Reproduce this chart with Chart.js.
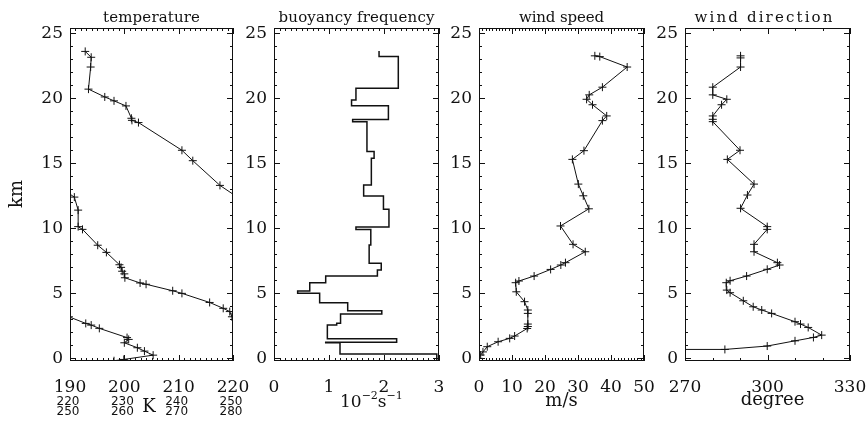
<!DOCTYPE html>
<html>
<head>
<meta charset="utf-8">
<script src="https://cdn.jsdelivr.net/npm/chart.js@4.4.0/dist/chart.umd.min.js"></script>
<style>
  body { margin: 0; background: #fff; }
  canvas { position: absolute; top: 0; left: 0; }
</style>
</head>
<body>
<canvas id="temp" width="868" height="421"></canvas>
<canvas id="bvf" width="868" height="421"></canvas>
<canvas id="speed" width="868" height="421"></canvas>
<canvas id="dir" width="868" height="421"></canvas>
<script>
// ---- values (heights in km) ----
const tempHeight = [-0.18, -0.08, 0.25, 0.56, 0.82, 1.2, 1.46, 1.6, 2.31, 2.56, 2.69, 3.2, 3.6, 3.85, 4.3, 5.0, 5.2, 5.7, 5.8, 6.2, 6.5, 6.7, 7.0, 7.2, 8.15, 8.7, 9.92, 10.13, 11.4, 12.4, 13.3, 15.2, 16.0, 18.13, 18.3, 18.46, 19.41, 19.8, 20.1, 20.7, 22.4, 23.15, 23.6];
const tempKelvin = [258.1, 259.9, 265.3, 263.7, 262.4, 260.0, 260.8, 260.5, 255.4, 253.9, 252.9, 249.8, 249.4, 248.2, 245.7, 240.6, 238.9, 234.0, 232.9, 230.1, 230.0, 229.6, 229.4, 229.1, 226.7, 225.1, 222.3, 221.5, 221.5, 220.8, 217.6, 212.6, 210.6, 202.6, 201.4, 201.3, 200.3, 198.1, 196.4, 193.4, 193.8, 193.9, 192.8];
// temperature axis wraps every 30 K
const tempWraps = [0, 30, 60];
const tempTicks = [190, 200, 210, 220];

// buoyancy frequency: layer bottom heights and value in each layer
const bvfHeight = [-0.3, 0.33, 1.2, 1.25, 1.51, 2.56, 2.7, 3.41, 3.66, 4.28, 5.0, 5.18, 5.82, 6.33, 6.79, 7.31, 8.72, 9.9, 10.1, 11.46, 12.48, 13.33, 15.38, 15.9, 18.2, 18.37, 19.43, 19.87, 20.77, 23.2, 23.64];
const bvfValue = [2.96, 1.20, 0.94, 2.23, 0.97, 1.14, 1.21, 1.96, 1.34, 0.83, 0.43, 0.65, 0.94, 1.88, 1.95, 1.73, 1.76, 1.49, 2.09, 1.99, 1.63, 1.77, 1.82, 1.69, 1.43, 2.08, 1.41, 1.49, 2.26, 1.91, 1.91];

const speedHeight = [0.0, 0.26, 0.5, 0.9, 1.28, 1.54, 1.72, 2.3, 2.45, 2.64, 3.46, 3.72, 4.36, 5.12, 5.82, 5.95, 6.33, 6.84, 7.18, 7.36, 8.2, 8.77, 10.18, 11.5, 12.5, 13.4, 15.3, 15.97, 18.28, 18.64, 19.5, 19.92, 20.26, 20.85, 22.4, 23.2, 23.26];
const speedValue = [0.0, 0.5, 1.2, 2.5, 5.8, 9.3, 10.8, 14.6, 14.8, 14.8, 14.8, 14.8, 13.8, 11.3, 11.1, 12.1, 16.7, 21.7, 24.8, 26.2, 32.2, 28.5, 24.7, 33.3, 31.6, 30.1, 28.3, 31.8, 37.4, 38.7, 34.4, 32.6, 33.4, 37.4, 44.9, 36.6, 35.1];

const dirHeight = [0.69, 0.69, 0.95, 1.35, 1.61, 1.79, 2.38, 2.64, 2.82, 3.46, 3.72, 3.97, 4.43, 5.05, 5.25, 5.82, 5.97, 6.33, 6.85, 7.18, 7.36, 8.2, 8.77, 9.92, 10.13, 11.54, 12.56, 13.4, 15.3, 16.0, 18.2, 18.38, 18.64, 19.5, 19.92, 20.26, 20.85, 22.4, 23.1, 23.26];
const dirValue = [268, 284.5, 299.9, 310.0, 316.7, 319.7, 314.8, 312.0, 310.0, 301.5, 297.9, 294.8, 291.2, 286.4, 285.2, 285.0, 286.4, 292.4, 299.9, 304.4, 303.6, 295.1, 295.1, 299.9, 299.9, 290.2, 292.7, 295.1, 285.4, 290.0, 280.1, 280.1, 280.1, 283.3, 285.2, 280.1, 280.1, 290.2, 290.2, 290.2];

const heightTicks = [0, 5, 10, 15, 20, 25];

const SERIF = 'DejaVu Serif';
const INK = '#111';

function pairs(xs, ys, shift) {
  return ys.map((y, i) => ({ x: xs[i] - (shift || 0), y }));
}

// frame + inward IDL style tick marks
const frameTicks = {
  id: 'frameTicks',
  afterDatasetsDraw(chart, args, o) {
    const { ctx, chartArea: a, scales: { x, y } } = chart;
    ctx.save();
    ctx.strokeStyle = INK;
    ctx.lineWidth = 1;
    ctx.strokeRect(a.left + 0.5, a.top + 0.5, a.right - a.left - 1, a.bottom - a.top - 1);
    ctx.beginPath();
    const walk = (min, max, minor, major, fn) => {
      const n0 = Math.ceil(min / minor - 1e-6), n1 = Math.floor(max / minor + 1e-6);
      for (let n = n0; n <= n1; n++) {
        const v = n * minor;
        const isMajor = Math.abs(v / major - Math.round(v / major)) < 1e-6;
        fn(v, isMajor ? 6 : 3);
      }
    };
    walk(x.min, x.max, o.xMinor, o.xMajor, (v, len) => {
      const px = Math.round(x.getPixelForValue(v)) + 0.5;
      ctx.moveTo(px, a.bottom); ctx.lineTo(px, a.bottom - len);
      ctx.moveTo(px, a.top); ctx.lineTo(px, a.top + len);
    });
    walk(y.min, y.max, 1, 5, (v, len) => {
      const py = Math.round(y.getPixelForValue(v)) + 0.5;
      ctx.moveTo(a.left, py); ctx.lineTo(a.left + len, py);
      ctx.moveTo(a.right, py); ctx.lineTo(a.right - len, py);
    });
    ctx.stroke();
    ctx.restore();
  }
};

const extraText = {
  id: 'extraText',
  afterDraw(chart, args, o) {
    if (!o.draw) return;
    const ctx = chart.ctx;
    ctx.save();
    ctx.fillStyle = INK;
    o.draw(ctx, chart);
    ctx.restore();
  }
};

function fitText(ctx, text, cx, y, width) {
  ctx.letterSpacing = '0px';
  const w = ctx.measureText(text).width;
  const ls = (width - w) / text.length;
  ctx.letterSpacing = ls + 'px';
  ctx.textAlign = 'center';
  ctx.textBaseline = 'alphabetic';
  ctx.fillText(text, cx + ls / 2, y);
  ctx.letterSpacing = '0px';
}

function title(ctx, chart, text, width, dx) {
  const a = chart.chartArea;
  ctx.font = '15px "' + SERIF + '"';
  fitText(ctx, text, (a.left + a.right) / 2 + (dx || 0), 22, width);
}

// every panel sits on a full-width transparent canvas; padding places its plot box
function panel(id, p) {
  return new Chart(document.getElementById(id), {
    type: 'scatter',
    data: { datasets: p.datasets },
    options: {
      responsive: false,
      animation: false,
      devicePixelRatio: 1,
      layout: { padding: { top: 28, right: 868 - p.right, left: p.left - p.yWidth, bottom: 0 } },
      plugins: {
        legend: { display: false },
        tooltip: { enabled: false },
        frameTicks: { xMajor: p.xMajor, xMinor: p.xMinor },
        extraText: { draw: p.draw }
      },
      scales: {
        x: {
          type: 'linear', min: p.xMin, max: p.xMax,
          afterFit: s => { s.height = 60; s.paddingLeft = 0; s.paddingRight = 0; },
          grid: { display: false, drawTicks: false },
          border: { display: false },
          ticks: { stepSize: p.xMajor, includeBounds: false, padding: 16, color: INK,
                   font: { family: SERIF, size: 17 }, maxRotation: 0, autoSkip: false }
        },
        y: {
          type: 'linear', min: -0.2, max: 25.4,
          afterFit: s => { s.width = p.yWidth; s.paddingTop = 0; s.paddingBottom = 0; },
          afterBuildTicks: s => { s.ticks = heightTicks.map(v => ({ value: v })); },
          grid: { display: false, drawTicks: false },
          border: { display: false },
          ticks: { padding: 7, color: INK, font: { family: SERIF, size: 17 } }
        }
      }
    },
    plugins: [frameTicks, extraText]
  });
}

const lineStyle = { showLine: true, borderColor: INK, borderWidth: 1, pointStyle: 'cross',
                    pointRadius: 4, pointBorderColor: INK, pointBorderWidth: 1 };

panel('temp', {
  left: 70, right: 233, yWidth: 70,
  xMin: 190, xMax: 220, xMajor: 10, xMinor: 1,
  datasets: tempWraps.map(w => Object.assign({ data: pairs(tempKelvin, tempHeight, w) }, lineStyle)),
  draw(ctx, chart) {
    const x = chart.scales.x;
    title(ctx, chart, 'temperature', 97);
    ctx.font = '18px "' + SERIF + '"';
    ctx.textAlign = 'center';
    ctx.textBaseline = 'middle';
    ctx.save();
    ctx.translate(17, 194);
    ctx.rotate(-Math.PI / 2);
    ctx.fillText('km', 0, 0);
    ctx.restore();
    ctx.textBaseline = 'alphabetic';
    ctx.fillText('K', 149, 412);
    ctx.font = '12px "DejaVu Sans"';
    tempWraps.slice(1).forEach((w, row) => {
      tempTicks.forEach(t => {
        ctx.fillText(String(t + w), x.getPixelForValue(t) - 2, 405 + row * 10);
      });
    });
  }
});

panel('bvf', {
  left: 274, right: 439, yWidth: 34,
  xMin: 0, xMax: 3, xMajor: 1, xMinor: 0.1,
  datasets: [{ data: pairs(bvfValue, bvfHeight), showLine: true, stepped: 'after',
               borderColor: INK, borderWidth: 1.5, pointRadius: 0 }],
  draw(ctx, chart) {
    title(ctx, chart, 'buoyancy frequency', 156);
    const a = chart.chartArea;
    let px = a.left + 66;
    const base = 407;
    ctx.textAlign = 'left';
    ctx.textBaseline = 'alphabetic';
    const put = (t, size, rise) => {
      ctx.font = size + 'px "' + SERIF + '"';
      ctx.fillText(t, px, base - rise);
      px += ctx.measureText(t).width;
    };
    put('10', 17, 0);
    put('\u22122', 11, 8);
    put('s', 17, 0);
    put('\u22121', 11, 8);
  }
});

panel('speed', {
  left: 479, right: 644, yWidth: 34,
  xMin: 0, xMax: 50, xMajor: 10, xMinor: 1,
  datasets: [Object.assign({ data: pairs(speedValue, speedHeight) }, lineStyle)],
  draw(ctx, chart) {
    title(ctx, chart, 'wind speed', 85);
    const a = chart.chartArea;
    ctx.font = '18px "' + SERIF + '"';
    ctx.textAlign = 'center';
    ctx.fillText('m/s', (a.left + a.right) / 2, 406);
  }
});

panel('dir', {
  left: 685, right: 850, yWidth: 35,
  xMin: 270, xMax: 330, xMajor: 30, xMinor: 10,
  datasets: [Object.assign({ data: pairs(dirValue, dirHeight) }, lineStyle)],
  draw(ctx, chart) {
    title(ctx, chart, 'wind direction', 140, -4);
    const a = chart.chartArea;
    ctx.font = '18px "' + SERIF + '"';
    ctx.textAlign = 'center';
    ctx.fillText('degree', (a.left + a.right) / 2 + 5, 405);
  }
});
</script>
</body>
</html>
